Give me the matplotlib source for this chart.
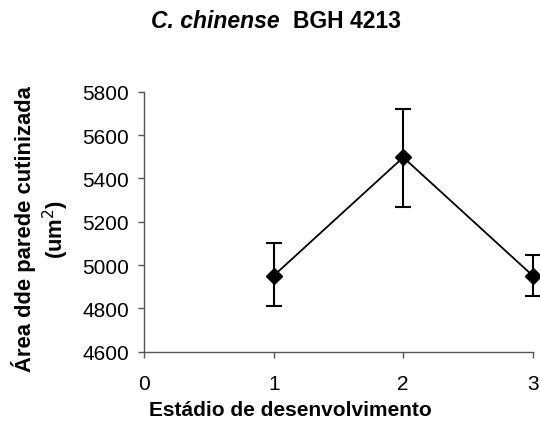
import matplotlib
matplotlib.use("Agg")
import matplotlib.pyplot as plt

plt.rcParams['font.family'] = ['Liberation Sans', 'DejaVu Sans']

stages = [1, 2, 3]
area = [4951, 5497, 4951]
err_low = [4812, 5266, 4858]
err_high = [5100, 5719, 5046]
xticks = [0, 1, 2, 3]
yticks = [4600, 4800, 5000, 5200, 5400, 5600, 5800]

yerr = [[a - l for a, l in zip(area, err_low)], [h - a for a, h in zip(area, err_high)]]

fig = plt.figure(figsize=(5.4, 4.39), dpi=100)
ax = fig.add_axes([0.2672, 0.1966, 0.7193, 0.5922])

ax.errorbar(stages, area, yerr=yerr, color='black', lw=1.3, marker='D', ms=8.5,
            capsize=6, capthick=1.5, elinewidth=1.5, clip_on=False, zorder=3)

ax.set_xlim(0, 3)
ax.set_ylim(4600, 5800)
ax.set_xticks(xticks)
ax.set_yticks(yticks)
ax.tick_params(axis='both', labelsize=15, length=4, width=1, direction='out')
ax.tick_params(axis='x', pad=12)
ax.tick_params(axis='y', pad=7)
for s in ['top', 'right']:
    ax.spines[s].set_visible(False)
for s in ['left', 'bottom']:
    ax.spines[s].set_linewidth(1)
    ax.spines[s].set_color('#555555')
ax.tick_params(colors='#555555', labelcolor='black')

fig.text(290 / 540, 1 - 411 / 439, 'Estádio de desenvolvimento', fontsize=15,
         fontweight='bold', ha='center', va='center')
fig.text(41 / 540, 1 - 229 / 439, 'Área dde parede cutinizada\n(um$^2$)', fontsize=15.8,
         fontweight='bold', ha='center', va='center', rotation=90, multialignment='center',
         linespacing=1.25)

fig.text(280 / 540, 1 - 28 / 439, 'C. chinense', fontsize=16.5, fontweight='bold',
         fontstyle='italic', ha='right', va='baseline')
fig.text(293 / 540, 1 - 28 / 439, 'BGH 4213', fontsize=16.5, fontweight='bold',
         ha='left', va='baseline')

fig.savefig('out.png', dpi=100)
